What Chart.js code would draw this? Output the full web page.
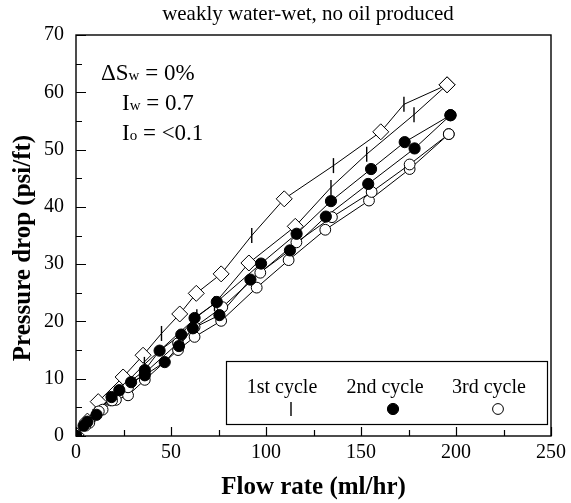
<!DOCTYPE html>
<html>
<head>
<meta charset="utf-8">
<script src="https://cdn.jsdelivr.net/npm/chart.js@4.4.1/dist/chart.umd.min.js"></script>
<style>
    html, body { margin: 0; padding: 0; background: #fff; }
    #grafico { display: block; }
</style>
</head>
<body>
<canvas id="grafico" width="571" height="503"></canvas>
<script>
// ==========================================================
// Pressure drop vs flow rate - three flooding cycles
// ==========================================================

// 1st cycle, upper run (diamonds + ticks share one path)
const c1aDiamondRate = [0, 6, 11.7, 24.8, 35.3, 54.6, 63.3, 76.4, 109.6, 160.4, 195.3];
const c1aDiamondDp   = [0.2, 2.6, 6.0, 10.3, 14.1, 21.3, 24.9, 28.3, 41.4, 53.1, 61.3];
const c1aTickRate    = [45, 92.5, 135.5, 172.6];
const c1aTickDp      = [17.9, 35.0, 47.2, 57.9];

// 1st cycle, lower run
const c1bDiamondRate = [91, 115.4, 195.3];
const c1bDiamondDp   = [30.2, 36.6, 61.3];
const c1bTickRate    = [0, 9, 18, 36, 63.6, 72.9, 134.2, 153, 177.9];
const c1bTickDp      = [0, 3.4, 6.5, 12.5, 20.8, 23.1, 43.4, 49.2, 56.1];

// 2nd cycle (filled circles)
const c2aRate = [0, 4, 10.8, 22.8, 36.2, 44, 55.4, 62.4, 74.1, 97.4, 116.1, 134.2, 155.3, 173, 197.1];
const c2aDp   = [0, 1.8, 3.7, 8.0, 11.5, 14.9, 17.7, 20.6, 23.4, 30.1, 35.3, 41.0, 46.6, 51.3, 56.0];
const c2bRate = [0, 6, 18.7, 29, 36.2, 46.7, 54.2, 61.5, 75.5, 91.8, 112.6, 131.5, 153.8, 178.2, 197.1];
const c2bDp   = [0, 2.5, 6.8, 9.4, 10.6, 12.9, 15.7, 18.8, 21.1, 27.3, 32.4, 38.3, 44.0, 50.2, 56.0];

// 3rd cycle (open circles)
const c3aRate = [0, 5, 12, 19, 27.4, 36.2, 53.7, 62.4, 77, 97, 116, 134.7, 155.6, 175.6, 196.2];
const c3aDp   = [0, 1.8, 4.3, 6.2, 8.5, 11.0, 16.2, 19.0, 22.5, 28.5, 33.8, 38.2, 42.6, 47.4, 52.7];
const c3bRate = [0, 7, 14, 21, 27.4, 36.2, 53.7, 62.4, 76.4, 95.1, 111.9, 131.2, 154.2, 175.6, 196.2];
const c3bDp   = [0, 2.3, 4.6, 6.3, 7.1, 9.8, 15.0, 17.3, 20.1, 25.9, 30.7, 36.0, 41.1, 46.6, 52.7];

const legendNames = ["1st cycle", "2nd cycle", "3rd cycle"];
const chartTitle = "weakly water-wet, no oil produced";
const xTitle = "Flow rate (ml/hr)";
const yTitle = "Pressure drop (psi/ft)";

const FONTE = "'Liberation Serif', 'Times New Roman', serif";

// ==========================================================
// helpers
// ==========================================================

function pontos(xs, ys){
    return xs.map((x, i) => ({x: x, y: ys[i]}));
}

function caminho(xsA, ysA, xsB, ysB){
    return pontos(xsA, ysA).concat(pontos(xsB, ysB)).sort((p, q) => p.x - q.x);
}

function linha(data){
    return {
        data: data,
        showLine: true,
        borderColor: "#000",
        borderWidth: 1,
        pointRadius: 0,
        order: 10
    };
}

function marcador(data, estilo){
    return Object.assign({
        data: data,
        showLine: false,
        borderColor: "#000"
    }, estilo);
}

const DIAMANTE = {pointStyle: "rectRot", pointRadius: 8, backgroundColor: "#fff", borderWidth: 1, order: 4};
const TRACO    = {pointStyle: "line", rotation: 90, pointRadius: 7.5, borderWidth: 1.4, order: 3};
const CHEIO    = {pointStyle: "circle", pointRadius: 5.6, backgroundColor: "#000", borderWidth: 1, order: 1};
const VAZIO    = {pointStyle: "circle", pointRadius: 5.4, backgroundColor: "#fff", borderWidth: 1, order: 2};

// ==========================================================
// PLUGIN: frame, inward ticks, texts and legend box
// ==========================================================

const decoracao = {

    id: "decoracao",

    afterDraw(chart){

        const {ctx, chartArea: a} = chart;
        const sx = chart.scales.x;
        const sy = chart.scales.y;

        ctx.save();
        ctx.strokeStyle = "#000";
        ctx.fillStyle = "#000";

        // frame
        ctx.lineWidth = 1.4;
        ctx.strokeRect(a.left, a.top, a.right - a.left, a.bottom - a.top);

        // inward ticks
        ctx.lineWidth = 1.2;
        ctx.beginPath();
        for(let v = 0; v <= 250; v += 25){
            const x = Math.round(sx.getPixelForValue(v)) + 0.5;
            const len = v % 50 === 0 ? 9 : 6;
            ctx.moveTo(x, a.bottom);
            ctx.lineTo(x, a.bottom - len);
        }
        for(let v = 0; v <= 70; v += 5){
            const y = Math.round(sy.getPixelForValue(v)) + 0.5;
            const len = v % 10 === 0 ? 10 : 6;
            ctx.moveTo(a.left, y);
            ctx.lineTo(a.left + len, y);
        }
        ctx.stroke();

        // title
        ctx.font = "21px " + FONTE;
        ctx.textAlign = "center";
        ctx.textBaseline = "alphabetic";
        ctx.fillText(chartTitle, 308, 20);

        // axis titles
        ctx.font = "bold 25px " + FONTE;
        ctx.fillText(xTitle, (a.left + a.right) / 2, 494);

        ctx.save();
        ctx.translate(30, 248);
        ctx.rotate(-Math.PI / 2);
        ctx.fillText(yTitle, 0, 0);
        ctx.restore();

        // saturation / index annotation
        ctx.textAlign = "left";
        const anot = [
            {x: 101, y: 80, main: "\u0394S", sub: "w", rest: " = 0%"},
            {x: 122, y: 110, main: "I", sub: "w", rest: " = 0.7"},
            {x: 122, y: 140, main: "I", sub: "o", rest: " = <0.1"}
        ];
        anot.forEach(t=>{
            let x = t.x;
            ctx.font = "23px " + FONTE;
            ctx.fillText(t.main, x, t.y);
            x += ctx.measureText(t.main).width;
            ctx.font = "15px " + FONTE;
            ctx.fillText(t.sub, x, t.y);
            x += ctx.measureText(t.sub).width;
            ctx.font = "23px " + FONTE;
            ctx.fillText(t.rest, x, t.y);
        });

        // legend box
        ctx.lineWidth = 1.2;
        ctx.fillStyle = "#fff";
        ctx.fillRect(226, 361, 321, 63);
        ctx.strokeRect(226.5, 361.5, 321, 63);

        ctx.fillStyle = "#000";
        ctx.font = "20px " + FONTE;
        ctx.textAlign = "center";
        const cx = [282, 385, 489];
        legendNames.forEach((nome, i)=>{
            ctx.fillText(nome, cx[i], 393);
        });

        // legend markers
        const my = 409;
        ctx.lineWidth = 1.4;
        ctx.beginPath();
        ctx.moveTo(291, my - 7);
        ctx.lineTo(291, my + 7);
        ctx.stroke();

        ctx.lineWidth = 1;
        ctx.beginPath();
        ctx.arc(393, my, 5.6, 0, Math.PI * 2);
        ctx.fill();
        ctx.stroke();

        ctx.beginPath();
        ctx.arc(498, my, 5.4, 0, Math.PI * 2);
        ctx.fillStyle = "#fff";
        ctx.fill();
        ctx.stroke();

        ctx.restore();
    }
};

// ==========================================================
// chart
// ==========================================================

const canvas = document.getElementById("grafico");

new Chart(canvas, {

    type: "scatter",

    data: {
        datasets: [
            linha(caminho(c1aDiamondRate, c1aDiamondDp, c1aTickRate, c1aTickDp)),
            linha(caminho(c1bDiamondRate, c1bDiamondDp, c1bTickRate, c1bTickDp)),
            linha(pontos(c2aRate, c2aDp)),
            linha(pontos(c2bRate, c2bDp)),
            linha(pontos(c3aRate, c3aDp)),
            linha(pontos(c3bRate, c3bDp)),

            marcador(pontos(c1aDiamondRate, c1aDiamondDp), DIAMANTE),
            marcador(pontos(c1bDiamondRate, c1bDiamondDp), DIAMANTE),
            marcador(pontos(c1aTickRate, c1aTickDp), TRACO),
            marcador(pontos(c1bTickRate, c1bTickDp), TRACO),
            marcador(pontos(c3aRate, c3aDp), VAZIO),
            marcador(pontos(c3bRate, c3bDp), VAZIO),
            marcador(pontos(c2aRate, c2aDp), CHEIO),
            marcador(pontos(c2bRate, c2bDp), CHEIO)
        ]
    },

    options: {

        responsive: false,

        animation: false,

        layout: {
            padding: {top: 35, right: 18, left: 0, bottom: 0}
        },

        plugins: {
            legend: {display: false},
            tooltip: {enabled: false}
        },

        scales: {

            x: {
                type: "linear",
                min: 0,
                max: 250,
                ticks: {
                    stepSize: 50,
                    color: "#000",
                    padding: 5,
                    font: {family: FONTE, size: 20}
                },
                grid: {display: false, drawTicks: false},
                border: {display: false},
                afterFit(scale){ scale.height = 67; }
            },

            y: {
                min: 0,
                max: 70,
                ticks: {
                    stepSize: 10,
                    color: "#000",
                    padding: 12,
                    font: {family: FONTE, size: 20}
                },
                grid: {display: false, drawTicks: false},
                border: {display: false},
                afterFit(scale){ scale.width = 76; }
            }

        }

    },

    plugins: [decoracao]

});
</script>
</body>
</html>
